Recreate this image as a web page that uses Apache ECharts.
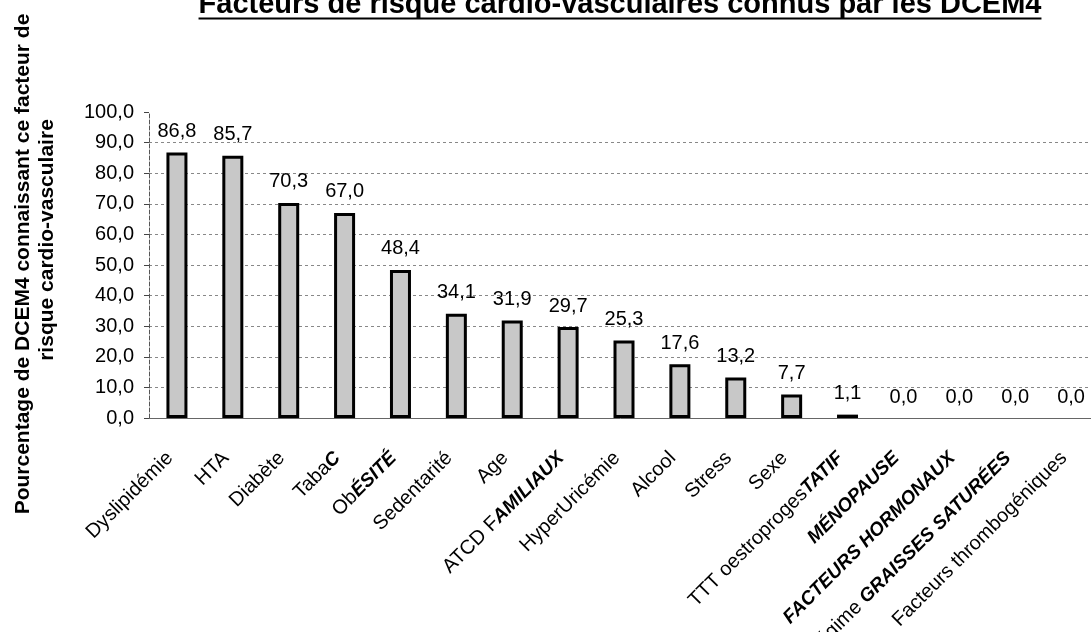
<!DOCTYPE html>
<html>
<head>
<meta charset="utf-8">
<script src="https://cdn.jsdelivr.net/npm/echarts@6/dist/echarts.min.js"></script>
<style>
html,body{margin:0;padding:0;background:#fff;}
#chart{width:1091px;height:632px;}
</style>
</head>
<body>
<div id="chart"></div>
<script>
// ---- data ----
const titleText = "Facteurs de risque cardio-vasculaires connus par les DCEM4";
const yNameLine1 = "Pourcentage de DCEM4 connaissant ce facteur de";
const yNameLine2 = "risque cardio-vasculaire";
const categories = ["Dyslipidémie", "HTA", "Diabète", "Tabac", "Obésité", "Sedentarité", "Age",
  "ATCD Familiaux", "HyperUricémie", "Alcool", "Stress", "Sexe", "TTT oestroprogestatif",
  "Ménopause", "Facteurs hormonaux", "Régime graisses saturées", "Facteurs thrombogéniques"];
// index where the hand-written part of each label starts (-1 = fully printed)
const handStart = [-1, -1, -1, 4, 2, -1, -1, 6, -1, -1, -1, -1, 16, 0, 0, 7, -1];
const values = [86.8, 85.7, 70.3, 67.0, 48.4, 34.1, 31.9, 29.7, 25.3, 17.6, 13.2, 7.7, 1.1, 0.0, 0.0, 0.0, 0.0];
const yMin = 0, yMax = 100, yStep = 10;

const FONT = "'Liberation Sans', Arial, sans-serif";
const fmt = v => Number(v).toFixed(1).replace('.', ',');

const chart = echarts.init(document.getElementById('chart'), null, {renderer: 'canvas'});

// measure title width for the underline
const TITLE_FONT = "bold 29px 'Liberation Sans', Arial, sans-serif";
const ctx = document.createElement('canvas').getContext('2d');
ctx.font = TITLE_FONT;
const titleW = ctx.measureText(titleText).width;
const titleCx = 620;

const barData = values.map(v => v === 0 ? {value: v, itemStyle: {borderWidth: 0}} : v);

chart.setOption({
  animation: false,
  backgroundColor: '#fff',
  grid: {left: 149, top: 112, bottom: 214, width: 950, containLabel: false, outerBoundsMode: 'none'},
  xAxis: {
    type: 'category',
    data: categories,
    axisLine: {show: true, lineStyle: {color: '#666', width: 1}},
    axisTick: {show: false},
    axisLabel: {
      interval: 0,
      rotate: 45,
      margin: 30,
      padding: [0, 10, 0, 0],
      color: '#000',
      fontFamily: FONT,
      fontSize: 20,
      formatter: function (val, idx) {
        const s = handStart[idx];
        if (s < 0) return '{p|' + val + '}';
        const printed = val.slice(0, s);
        const hand = val.slice(s).toUpperCase();
        return (printed ? '{p|' + printed + '}' : '') + '{h|' + hand + '}';
      },
      rich: {
        p: {fontFamily: FONT, fontSize: 20, color: '#000'},
        h: {fontFamily: FONT, fontSize: 19, fontWeight: 'bold', fontStyle: 'italic', color: '#000'}
      }
    },
    splitLine: {show: false}
  },
  yAxis: {
    type: 'value',
    min: yMin, max: yMax, interval: yStep,
    axisLine: {show: true, lineStyle: {color: '#555', type: 'dashed', width: 1}},
    axisTick: {show: true, length: 5, lineStyle: {color: '#444'}},
    axisLabel: {margin: 15, color: '#000', fontFamily: FONT, fontSize: 20, formatter: v => fmt(v)},
    splitLine: {show: true, showMinLine: false, showMaxLine: false, lineStyle: {color: '#888', type: [3, 3], width: 1}}
  },
  series: [{
    type: 'bar',
    data: barData,
    barWidth: 21,
    itemStyle: {color: '#c8c8c8', borderColor: '#000', borderWidth: 3},
    label: {
      show: true, position: 'top', distance: 11,
      color: '#000', fontFamily: FONT, fontSize: 20,
      formatter: p => fmt(p.value)
    }
  }],
  graphic: [
    {type: 'text', x: titleCx, y: 5, style: {text: titleText, font: TITLE_FONT, fill: '#000', textAlign: 'center', textVerticalAlign: 'middle'}},
    {type: 'line', shape: {x1: titleCx - titleW / 2, y1: 18.5, x2: titleCx + titleW / 2, y2: 18.5}, style: {stroke: '#000', lineWidth: 2}},
    {type: 'text', x: 23, y: 264, rotation: Math.PI / 2, style: {text: yNameLine1, font: "bold 21px 'Liberation Sans', Arial, sans-serif", fill: '#000', textAlign: 'center', textVerticalAlign: 'middle'}},
    {type: 'text', x: 47, y: 240, rotation: Math.PI / 2, style: {text: yNameLine2, font: "bold 21px 'Liberation Sans', Arial, sans-serif", fill: '#000', textAlign: 'center', textVerticalAlign: 'middle'}}
  ]
});
</script>
</body>
</html>
